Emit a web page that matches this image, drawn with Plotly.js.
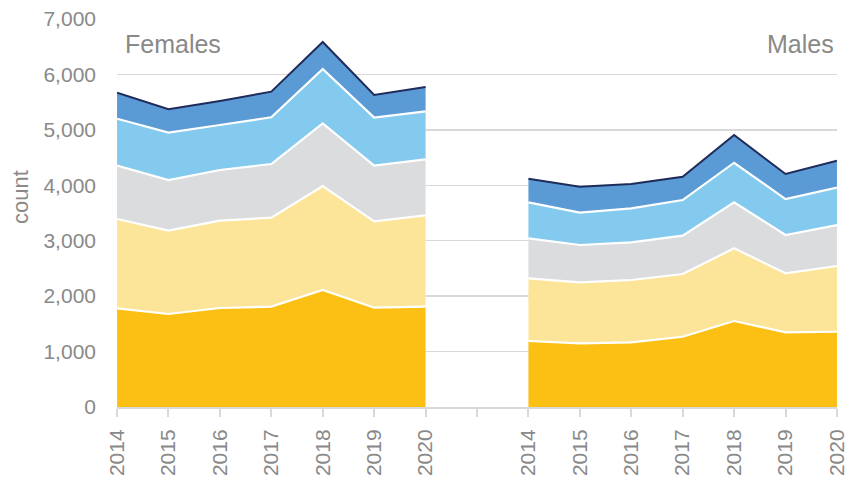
<!DOCTYPE html>
<html>
<head>
<meta charset="utf-8">
<script src="https://cdn.plot.ly/plotly-3.0.1.min.js"></script>
<style>html,body{margin:0;padding:0;background:#fff;}#chart{width:849px;height:484px;}</style>
</head>
<body>
<div id="chart"></div>
<script>
// Year categories (same for both groups)
const years = ["2014","2015","2016","2017","2018","2019","2020"];
const groupLabels = ["Females", "Males"];

// Females – stacked layers, bottom to top
const femalesL1 = [1780, 1678, 1786, 1810, 2111, 1792, 1810];
const femalesL2 = [1612, 1503, 1575, 1606, 1876, 1558, 1648];
const femalesL3 = [962, 914, 915, 968, 1131, 1004, 1010];
const femalesL4 = [847, 854, 812, 842, 980, 866, 866];
const femalesL5 = [469, 422, 432, 463, 487, 409, 439];

// Males – stacked layers, bottom to top
const malesL1 = [1191, 1149, 1167, 1268, 1551, 1347, 1358];
const malesL2 = [1130, 1100, 1124, 1131, 1312, 1065, 1186];
const malesL3 = [722, 674, 680, 692, 829, 691, 739];
const malesL4 = [649, 583, 614, 643, 715, 649, 674];
const malesL5 = [427, 469, 438, 421, 500, 451, 487];

const layerColors = ["#FBC013", "#FCE598", "#DBDCDE", "#84CAEE", "#5B9BD5"];

// Build category positions: females 0..6, blank 7, males 8..14
const femX = years.map((_, i) => i);
const malX = years.map((_, i) => i + years.length + 1);
const tickVals = [], tickText = [];
for (let i = 0; i < years.length * 2 + 1; i++) {
  tickVals.push(i);
  if (i < years.length) tickText.push(years[i]);
  else if (i === years.length) tickText.push("");
  else tickText.push(years[i - years.length - 1]);
}

const femLayers = [femalesL1, femalesL2, femalesL3, femalesL4, femalesL5];
const malLayers = [malesL1, malesL2, malesL3, malesL4, malesL5];

const traces = [];
function addGroup(xs, layers, group) {
  layers.forEach((ys, k) => {
    const top = k === layers.length - 1;
    traces.push({
      type: "scatter", mode: "lines", x: xs, y: ys,
      stackgroup: group, fillcolor: layerColors[k],
      line: { color: top ? "#1F2B5B" : "#FFFFFF", width: top ? 2 : 2.2, shape: "linear" },
      hoverinfo: "skip", showlegend: false
    });
  });
}
addGroup(femX, femLayers, "f");
addGroup(malX, malLayers, "m");

const font = "Liberation Sans, Arial, sans-serif";
const grey = "#898989";

const layout = {
  width: 849, height: 484,
  margin: { l: 117, r: 12, t: 19, b: 77 },
  paper_bgcolor: "#ffffff", plot_bgcolor: "#ffffff",
  showlegend: false,
  xaxis: {
    range: [-0.001, tickVals.length - 1 + 0.001],
    tickmode: "array", tickvals: tickVals, ticktext: tickText,
    tickangle: -90, ticks: "outside", ticklen: 8, tickwidth: 2, tickcolor: "#D9D9D9",
    showline: true, linecolor: "#D9D9D9", linewidth: 2,
    showgrid: false, zeroline: false,
    tickfont: { family: font, size: 21, color: grey },
    ticklabelstandoff: 4,
    ticklabeloverflow: "allow"
  },
  yaxis: {
    range: [0, 7000], dtick: 1000, tickformat: ",",
    showgrid: true, gridcolor: "#D9D9D9", gridwidth: 1.5,
    zeroline: false, showline: false, ticks: "",
    tickfont: { family: font, size: 21, color: grey },
    ticklabelstandoff: 20
  },
  annotations: [
    { text: groupLabels[0], xref: "paper", yref: "paper", x: 0.0083, y: 0.9356,
      xanchor: "left", yanchor: "middle", showarrow: false,
      font: { family: font, size: 25, color: grey } },
    { text: groupLabels[1], xref: "paper", yref: "paper", x: 0.9986, y: 0.9356,
      xanchor: "right", yanchor: "middle", showarrow: false,
      font: { family: font, size: 25, color: grey } },
    { text: "count", xref: "paper", yref: "paper", x: -0.135, y: 0.541,
      xanchor: "center", yanchor: "middle", textangle: -90, showarrow: false,
      font: { family: font, size: 22, color: grey } }
  ]
};

Plotly.newPlot("chart", traces, layout, { staticPlot: true, displayModeBar: false });
</script>
</body>
</html>
